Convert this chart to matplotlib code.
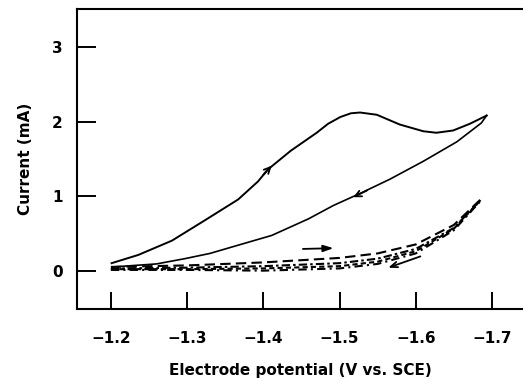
import matplotlib
matplotlib.use("Agg")
import matplotlib.pyplot as plt

# Solid cycle: forward (cathodic) scan
fwd_v = [-1.201, -1.236, -1.280, -1.323, -1.367, -1.393, -1.406, -1.436, -1.470, -1.485,
         -1.501, -1.515, -1.527, -1.549, -1.579, -1.610, -1.627, -1.649, -1.671, -1.693]
fwd_i = [0.11, 0.22, 0.41, 0.68, 0.96, 1.20, 1.36, 1.61, 1.85, 1.97,
         2.06, 2.11, 2.12, 2.09, 1.96, 1.87, 1.85, 1.88, 1.97, 2.08]
# Solid cycle: return scan
ret_v = [-1.693, -1.686, -1.654, -1.610, -1.566, -1.529, -1.492, -1.459, -1.411,
         -1.367, -1.330, -1.297, -1.260, -1.203]
ret_i = [2.08, 1.98, 1.73, 1.47, 1.23, 1.05, 0.88, 0.70, 0.48,
         0.35, 0.24, 0.17, 0.10, 0.06]

# Background (blank) scans
bg_v = [-1.20, -1.30, -1.40, -1.50, -1.55, -1.60, -1.65, -1.685]
bg_a = [0.06, 0.08, 0.12, 0.18, 0.24, 0.36, 0.62, 0.96]
bg_b = [0.04, 0.05, 0.07, 0.11, 0.17, 0.30, 0.58, 0.95]
bg_c = [0.03, 0.03, 0.04, 0.07, 0.13, 0.27, 0.57, 0.95]
bg_d = [0.02, 0.02, 0.01, 0.04, 0.10, 0.24, 0.55, 0.94]

xticks = [-1.2, -1.3, -1.4, -1.5, -1.6, -1.7]
xticklabels = ["\u22121.2", "\u22121.3", "\u22121.4", "\u22121.5", "\u22121.6", "\u22121.7"]
yticks = [0, 1, 2, 3]
yticklabels = ["0", "1", "2", "3"]

fig = plt.figure(figsize=(5.23, 3.79), dpi=100)
ax = fig.add_axes([0.147, 0.185, 0.853, 0.791])

ax.plot(fwd_v, fwd_i, color="black", lw=1.4, solid_joinstyle="round")
ax.plot(ret_v, ret_i, color="black", lw=1.2, solid_joinstyle="round")

ax.plot(bg_v, bg_a, color="black", lw=1.5, ls=(0, (5, 2.5)))
ax.plot(bg_v, bg_b, color="black", lw=1.5, ls=(0, (4, 1.5, 1.2, 1.5)))
ax.plot(bg_v, bg_c, color="black", lw=1.5, ls=(0, (2.5, 1.5)))
ax.plot(bg_v, bg_d, color="black", lw=1.5, ls=(0, (4, 2, 1, 2)))

ap = dict(arrowstyle="->,head_length=0.45,head_width=0.22", color="black", lw=1.3,
          shrinkA=0, shrinkB=0)
ax.annotate("", xy=(-1.411, 1.41), xytext=(-1.400, 1.29), arrowprops=ap)
ax.annotate("", xy=(-1.518, 0.99), xytext=(-1.536, 1.08), arrowprops=ap)
ax.annotate("", xy=(-1.492, 0.31), xytext=(-1.452, 0.30),
            arrowprops=dict(arrowstyle="-|>,head_length=0.6,head_width=0.2", color="black",
                            lw=1.3, shrinkA=0, shrinkB=0))
ax.annotate("", xy=(-1.564, 0.05), xytext=(-1.606, 0.20),
            arrowprops=dict(arrowstyle="->,head_length=0.5,head_width=0.2", color="black",
                            lw=1.3, shrinkA=0, shrinkB=0))

ax.set_xlim(-1.1554, -1.7407)
ax.set_ylim(-0.5, 3.5)
ax.spines["right"].set_visible(False)
for s in ["left", "bottom", "top"]:
    ax.spines[s].set_linewidth(1.5)

ax.set_xticks(xticks)
ax.set_xticklabels(xticklabels)
ax.set_yticks(yticks)
ax.set_yticklabels(yticklabels)
ax.tick_params(axis="x", direction="in", length=12, width=1.4, pad=16, labelsize=11)
ax.tick_params(axis="y", direction="in", length=14, width=1.4, pad=10, labelsize=11)
for lab in ax.get_xticklabels() + ax.get_yticklabels():
    lab.set_fontweight("bold")

ax.set_xlabel("Electrode potential (V vs. SCE)", fontsize=11, fontweight="bold", labelpad=12)
ax.set_ylabel("Current (mA)", fontsize=11, fontweight="bold", labelpad=14)

fig.savefig("out.png", dpi=100)
